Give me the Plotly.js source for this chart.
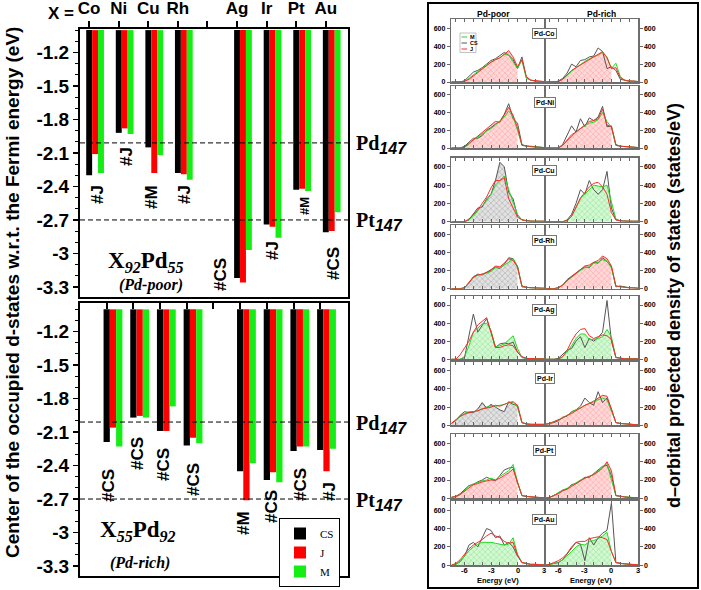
<!DOCTYPE html>
<html><head><meta charset="utf-8">
<script src="https://cdn.plot.ly/plotly-3.0.1.min.js"></script>
<style>html,body{margin:0;padding:0;background:#fff;}#chart{width:701px;height:590px;}</style>
</head><body><div id="chart"></div>
<script>
// ---------------- bar chart data ----------------
const xLabels = ["Co","Ni","Cu","Rh","","Ag","Ir","Pt","Au"];
const metals  = ["Co","Ni","Cu","Rh","Ag","Ir","Pt","Au"];
const poorCS = [-2.30,-1.92,-2.05,-2.28,-3.22,-2.74,-2.43,-2.81];
const poorJ  = [-2.11,-1.88,-2.28,-2.29,-3.26,-2.76,-2.42,-2.80];
const poorM  = [-2.28,-1.93,-2.12,-2.34,-2.97,-2.86,-2.44,-2.63];
const richCS = [-2.19,-1.97,-2.09,-2.22,-2.45,-2.53,-2.27,-2.26];
const richJ  = [-2.06,-1.955,-2.09,-2.15,-2.71,-2.46,-2.23,-2.45];
const richM  = [-2.23,-1.97,-1.87,-2.20,-2.38,-2.55,-2.23,-2.25];
const poorTags = ["#J","#J","#M","#J","#CS","#J","#M","#CS"];
const richTags = ["#CS","#CS","#CS","#CS","#M","#CS","#CS","#J"];
const barBase = -1.0;
const refNames  = ["Pd","Pt"];
const refLevels = [-2.01,-2.70];
const yTickVals = [-1.2,-1.5,-1.8,-2.1,-2.4,-2.7,-3.0,-3.3];
const yTickText = ["-1.2","-1.5","-1.8","-2.1","-2.4","-2.7","-3","-3.3"];

// ---------------- DOS data (states/eV) ----------------
const dosSystems = ["Pd-Co","Pd-Ni","Pd-Cu","Pd-Rh","Pd-Ag","Pd-Ir","Pd-Pt","Pd-Au"];
const dosE = [-7.5,-7,-6.5,-6,-5.5,-5,-4.5,-4,-3.5,-3,-2.5,-2,-1.5,-1,-0.5,0,0.5,1,1.5,2,2.5,3];
const dosXTickVals = [-7,-6,-5,-4,-3,-2,-1,0,1,2,3];
const dosXLabelVals = [-6,-3,0,3];
const dosXLabelText = ["-6","-3","0","3"];
const dosYTickVals = [0,200,400,600];
const dosPoorM = [
 [0,0,0,10,40,80,120,150,190,220,250,270,310,300,230,150,240,40,20,10,5,5],
 [0,0,0,10,40,90,130,160,190,220,260,300,350,420,350,200,30,20,15,10,5,5],
 [0,0,0,0,20,60,120,170,230,300,400,450,500,350,220,80,20,10,5,5,5,5],
 [0,0,0,10,60,120,150,160,170,190,230,230,260,290,330,250,30,15,10,10,5,5],
 [0,0,0,30,150,300,350,390,400,320,140,150,170,210,260,120,20,10,5,5,5,5],
 [20,60,100,130,150,150,160,180,200,220,210,220,230,250,250,200,30,15,10,10,10,10],
 [10,20,40,90,130,160,170,190,200,220,200,240,270,300,370,180,30,20,15,10,10,5],
 [0,10,40,100,160,200,230,250,250,250,240,230,220,230,300,120,30,20,10,10,5,5]];
const dosPoorCS = [
 [0,0,0,15,60,110,130,160,200,240,260,300,330,300,250,150,280,50,20,10,10,5],
 [0,0,0,20,60,110,110,140,200,230,270,300,380,500,330,280,40,20,20,15,10,5],
 [0,0,0,0,20,80,150,160,250,300,450,650,600,320,250,60,20,10,5,5,5,5],
 [0,0,0,10,60,130,160,150,180,210,240,220,270,340,330,240,20,15,10,10,5,5],
 [0,0,0,20,250,500,300,380,450,300,130,170,180,170,190,80,20,10,5,5,5,5],
 [20,50,110,150,140,140,180,250,190,230,200,170,150,260,230,220,30,15,10,10,10,10],
 [10,20,50,100,140,150,180,200,230,210,190,250,310,330,340,170,30,20,15,10,10,5],
 [0,10,40,100,220,250,200,300,400,380,300,320,220,250,200,100,30,20,10,10,5,5]];
const dosPoorJ = [
 [0,0,0,5,30,70,110,150,190,220,250,270,310,350,280,170,250,60,20,15,10,5],
 [0,0,0,10,50,100,130,180,210,250,300,290,380,460,370,230,30,20,15,10,5,5],
 [0,0,0,0,30,80,130,200,270,370,450,450,480,250,150,50,20,10,5,5,5,5],
 [0,0,0,10,70,130,150,160,180,200,250,240,280,330,310,240,30,15,10,10,5,5],
 [0,0,50,120,200,300,380,420,460,300,130,130,150,160,150,80,30,10,5,5,5,5],
 [20,60,100,120,140,150,160,180,190,200,220,210,230,250,260,220,30,15,10,10,10,10],
 [10,20,40,80,120,150,160,180,190,200,200,220,250,280,320,170,30,20,15,10,10,5],
 [0,20,60,120,180,220,250,280,320,350,320,300,260,240,250,110,30,20,10,10,5,5]];
const dosRichM = [
 [0,0,0,5,30,80,120,160,200,230,260,280,300,330,280,150,210,60,20,10,5,5],
 [0,0,0,0,30,80,140,180,220,250,280,290,320,400,300,230,30,20,15,10,5,5],
 [0,0,0,0,0,10,60,150,250,300,350,400,390,380,400,200,30,10,5,5,5,5],
 [0,0,0,10,40,90,130,160,200,230,240,280,290,320,300,230,30,20,15,10,5,5],
 [0,0,0,0,30,80,150,230,280,280,220,220,230,250,330,250,20,10,5,5,5,5],
 [10,20,40,60,80,110,140,170,190,220,240,270,280,300,280,150,30,20,15,10,10,5],
 [0,10,30,60,90,110,140,170,200,220,240,260,300,340,380,200,30,20,15,10,10,5],
 [0,10,20,30,60,100,150,200,230,220,260,270,290,320,360,150,30,20,15,10,5,5]];
const dosRichCS = [
 [0,0,0,10,40,100,200,170,240,250,280,290,380,340,150,170,130,30,20,10,10,5],
 [0,0,0,0,40,150,250,180,330,240,340,310,350,470,240,250,40,20,15,10,5,5],
 [0,0,0,0,0,20,80,200,350,300,450,350,300,350,550,150,20,10,5,5,5,5],
 [0,0,0,10,40,100,140,170,210,240,230,290,280,340,300,240,20,30,20,10,10,5],
 [0,0,0,10,60,100,120,200,250,130,230,200,240,300,650,200,20,10,5,5,5,5],
 [10,20,30,50,90,100,150,170,210,300,250,220,370,250,300,180,30,20,15,10,10,5],
 [0,10,30,60,90,100,150,160,200,230,230,270,300,350,360,250,30,20,15,10,10,5],
 [0,10,20,30,60,120,180,250,230,50,300,220,300,350,380,680,30,20,15,10,5,5]];
const dosRichJ = [
 [0,0,0,5,30,80,130,160,190,220,250,280,310,340,270,150,160,50,20,10,10,5],
 [0,0,0,0,30,90,150,180,220,260,300,310,330,440,260,240,30,20,15,10,5,5],
 [0,0,0,0,0,10,60,160,260,320,380,420,430,380,300,100,20,10,5,5,5,5],
 [0,0,0,10,40,90,130,170,220,250,260,290,310,360,330,250,30,20,15,10,5,5],
 [0,0,0,0,30,100,200,280,330,340,260,230,250,270,260,220,20,10,5,5,5,5],
 [10,20,40,60,80,110,130,160,190,220,240,260,300,330,320,180,30,20,15,10,10,5],
 [0,10,30,50,80,100,130,160,190,220,240,260,290,330,400,300,30,20,15,10,10,5],
 [0,10,30,50,80,130,200,250,260,260,290,300,310,300,280,150,30,20,15,10,5,5]];
const dosPoorFill = ["J","J","CS","CS","M","CS","J","M"];
const dosRichFill = ["J","J","M","J","M","J","J","M"];

// ---------------- layout helpers (pixel geometry) ----------------
const W = 701, H = 590;
const px = v => v / W, py = v => 1 - v / H;
const SANS = "Liberation Sans, Arial, sans-serif";
const SERIF = "Liberation Serif, Times New Roman, serif";
const COL = {CS:"#000000", J:"#ff0000", M:"#14ee14"};
const DOSCOL = {CS:"#555555", J:"#ff2a2a", M:"#1fdc1f"};
const FILL = {
  J:{bg:"#ffd9d9", fg:"#ff9d9d"},
  CS:{bg:"#e2e2e2", fg:"#a8a8a8"},
  M:{bg:"#d4f7d4", fg:"#8fe58f"}
};

const traces = [];
const annotations = [];
const shapes = [];
function note(o) {
  annotations.push(Object.assign({xref:"paper", yref:"paper", xanchor:"center", yanchor:"middle", showarrow:false}, o));
}

// ---------------- bar charts ----------------
const slotOf = metals.map(m => xLabels.indexOf(m));
const barSets = [
  {xa:"x", ya:"y", vals:{CS:poorCS, J:poorJ, M:poorM}, w:0.2, legend:true},
  {xa:"x2", ya:"y2", vals:{CS:richCS, J:richJ, M:richM}, w:0.235, legend:false}
];
barSets.forEach(set => {
  ["CS","J","M"].forEach((k, i) => {
    traces.push({
      type:"bar", name:k, x:slotOf, y:set.vals[k].map(v => v - barBase), base:barBase,
      width:set.w, offset:-set.w/2 + i*set.w,
      marker:{color:COL[k], line:{width:0}},
      xaxis:set.xa, yaxis:set.ya, showlegend:set.legend, legendgroup:k, hoverinfo:"skip"
    });
  });
});

const barY = {
  showgrid:false, zeroline:false, tickmode:"array", tickvals:yTickVals, ticktext:yTickText,
  ticks:"outside", ticklen:5, tickwidth:1.5, tickcolor:"#000",
  minor:{dtick:0.1, tick0:-1.2, ticks:"outside", ticklen:3, tickwidth:1, tickcolor:"#000"},
  showline:true, linewidth:2, linecolor:"#000", mirror:true,
  tickfont:{family:SANS, size:19, weight:"bold", color:"#000"}
};
const layout = {
  width:W, height:H, margin:{l:0,r:0,t:0,b:0}, paper_bgcolor:"#fff", plot_bgcolor:"#fff",
  font:{family:SANS, color:"#000"}, barmode:"overlay", showlegend:true,
  legend:{x:px(279), y:py(518), xanchor:"left", yanchor:"top", bgcolor:"#fff",
          bordercolor:"#000", borderwidth:1, font:{family:SERIF, size:11}, itemwidth:30,
          tracegroupgap:0},
  xaxis:{domain:[px(80),px(348)], range:[-0.31,8.75], anchor:"y", side:"top",
         tickmode:"array", tickvals:xLabels.map((_, i) => i), ticktext:xLabels,
         ticks:"outside", ticklen:6, tickwidth:2, tickcolor:"#000",
         showline:true, linewidth:2, linecolor:"#000", mirror:true, showgrid:false, zeroline:false,
         tickfont:{family:SANS, size:17, weight:"bold"}},
  yaxis:Object.assign({}, barY, {domain:[py(297),py(29)], range:[-3.39,-0.99], anchor:"x"}),
  xaxis2:{domain:[px(80),px(348)], range:[-1.0,9.04], anchor:"y2", side:"top",
          tickmode:"array", tickvals:xLabels.map((_, i) => i), showticklabels:false,
          ticks:"inside", ticklen:6, tickwidth:2, tickcolor:"#000",
          showline:true, linewidth:2, linecolor:"#000", mirror:true, showgrid:false, zeroline:false},
  yaxis2:Object.assign({}, barY, {domain:[py(576),py(303)], range:[-3.39,-0.943], anchor:"x2"})
};

// reference levels
[["x","y"],["x2","y2"]].forEach(([xa, ya]) => {
  refLevels.forEach((lv, i) => {
    shapes.push({type:"line", xref:xa+" domain", x0:0, x1:1, yref:ya, y0:lv, y1:lv,
                 line:{color:"#000", width:1, dash:"5px,3px"}});
    note({x:px(354), xanchor:"left", yref:ya, y:lv, yshift:-2,
      font:{family:SERIF, size:20, weight:"bold"},
      text:refNames[i] + "<sub><span style=\"font-family:'Liberation Sans';font-style:italic;font-size:16px\">147</span></sub>"});
  });
});

// structure tags (pixel centres of the labels)
const poorTagPx = [[97,195],[126,157],[152,197],[184,195],[220,274],[272,251],[304,206],[333,264]];
const richTagPx = [[108,485],[137,454],[163,465],[193,480],[243,523],[271,507],[300,485],[329,492]];
poorTags.forEach((t, i) => note({x:px(poorTagPx[i][0]), y:py(poorTagPx[i][1]),
  text:t, textangle:-90, font:{family:SANS, size:(i===6) ? 13 : 17, weight:"bold"}}));
richTags.forEach((t, i) => note({x:px(richTagPx[i][0]), y:py(richTagPx[i][1]),
  text:t, textangle:-90, font:{family:SANS, size:17, weight:"bold"}}));

note({x:px(46), xanchor:"left", y:py(14), text:"X\u00a0=", font:{family:SANS, size:17, weight:"bold"}});
note({x:px(146), y:py(262), text:"X<sub><i>92</i></sub>Pd<sub><i>55</i></sub>", font:{family:SERIF, size:23, weight:"bold"}});
note({x:px(151), y:py(285), text:"<i>(Pd-poor)</i>", font:{family:SERIF, size:16, weight:"bold"}});
note({x:px(138), y:py(531), text:"X<sub><i>55</i></sub>Pd<sub><i>92</i></sub>", font:{family:SERIF, size:23, weight:"bold"}});
note({x:px(140), y:py(563), text:"<i>(Pd-rich)</i>", font:{family:SERIF, size:16, weight:"bold"}});
note({x:px(12), y:py(293), textangle:-90,
  text:"Center of the occupied d-states w.r.t. the Fermi energy (eV)", font:{family:SANS, size:19, weight:"bold"}});

// ---------------- DOS panels ----------------
const rowsPx = [[19.3,82],[86,148],[157.7,221.7],[225,288.7],[296,359.3],[361.7,425.3],[434.3,498.3],[501,565.3]];
const colsPx = [[451.3,544],[545,638]];
const labelYPx = [33,102.7,170.7,240,310,378.3,450.7,519.5];
const nOcc = dosE.filter(e => e <= 0).length;
const dosSets = [
  {M:dosPoorM, CS:dosPoorCS, J:dosPoorJ, fill:dosPoorFill},
  {M:dosRichM, CS:dosRichCS, J:dosRichJ, fill:dosRichFill}
];
dosSystems.forEach((sys, r) => {
  [0,1].forEach(c => {
    const n = 3 + r*2 + c;
    const xa = "x"+n, ya = "y"+n;
    const set = dosSets[c];
    const fk = set.fill[r];
    traces.push({type:"scatter", mode:"lines", x:dosE.slice(0,nOcc), y:set[fk][r].slice(0,nOcc),
      fill:"tozeroy", fillcolor:FILL[fk].bg,
      fillpattern:{shape:"x", bgcolor:FILL[fk].bg, fgcolor:FILL[fk].fg, size:4, solidity:0.25},
      line:{width:0, color:FILL[fk].fg}, xaxis:xa, yaxis:ya, showlegend:false, hoverinfo:"skip"});
    ["CS","M","J"].forEach(k => {
      traces.push({type:"scatter", mode:"lines", x:dosE, y:set[k][r], line:{color:DOSCOL[k], width:1},
        xaxis:xa, yaxis:ya, showlegend:false, hoverinfo:"skip"});
    });
    layout["xaxis"+n] = {domain:[px(colsPx[c][0]), px(colsPx[c][1])], range:[-7.5,3], anchor:ya,
      tickmode:"array", tickvals:dosXTickVals, showticklabels:false,
      ticks:"inside", ticklen:3, tickwidth:1, tickcolor:"#666", mirror:"ticks",
      showline:true, linewidth:1.5, linecolor:"#6e6e6e", showgrid:false, zeroline:false};
    layout["yaxis"+n] = {domain:[py(rowsPx[r][1]), py(rowsPx[r][0])], range:[0,700], anchor:xa,
      side:c===0 ? "left" : "right", tickmode:"array", tickvals:dosYTickVals,
      ticks:"outside", ticklen:3, tickwidth:1, tickcolor:"#666", mirror:true,
      showline:true, linewidth:1.5, linecolor:"#6e6e6e", showgrid:false, zeroline:false,
      tickfont:{family:SANS, size:7, weight:"bold"}};
    if (r === 7) {
      dosXLabelVals.forEach((v, i) => note({xref:xa, x:v, y:py(570.5), text:dosXLabelText[i],
        font:{family:SANS, size:7.5, weight:"bold"}}));
    }
  });
  note({x:px(544.5), y:py(labelYPx[r]), text:sys,
    bgcolor:"#fff", bordercolor:"#777", borderwidth:1, borderpad:1,
    font:{family:SANS, size:7, weight:"bold"}});
});

note({x:px(494), y:py(14), text:"Pd-poor", font:{family:SANS, size:8.5, weight:"bold"}});
note({x:px(601), y:py(14), text:"Pd-rich", font:{family:SANS, size:8.5, weight:"bold"}});
note({x:px(498), y:py(580), text:"Energy (eV)", font:{family:SANS, size:7.5, weight:"bold"}});
note({x:px(591), y:py(580), text:"Energy (eV)", font:{family:SANS, size:7.5, weight:"bold"}});
note({x:px(674), y:py(306), textangle:-90,
  text:"d\u2013orbital projected density of states (states/eV)", font:{family:SANS, size:18, weight:"bold"}});

// DOS legend (first panel)
const dosLegendKeys = ["M","CS","J"];
shapes.push({type:"rect", xref:"paper", yref:"paper", x0:px(460), x1:px(476), y0:py(52.5), y1:py(33),
  line:{color:"#999", width:0.6}, fillcolor:"#fff"});
dosLegendKeys.forEach((k, i) => {
  const yy = 37 + i*6;
  shapes.push({type:"line", xref:"paper", yref:"paper", x0:px(461.5), x1:px(467), y0:py(yy), y1:py(yy),
    line:{color:DOSCOL[k], width:1}});
  note({x:px(468), y:py(yy), xanchor:"left", text:k, font:{family:SANS, size:5.5, weight:"bold"}});
});

// outer frame of DOS figure
shapes.push({type:"rect", xref:"paper", yref:"paper", x0:px(428), x1:px(698), y0:py(588), y1:py(3),
  line:{color:"#000", width:2}});

layout.annotations = annotations;
layout.shapes = shapes;
Plotly.newPlot("chart", traces, layout, {staticPlot:true, displayModeBar:false});
</script>
</body></html>
